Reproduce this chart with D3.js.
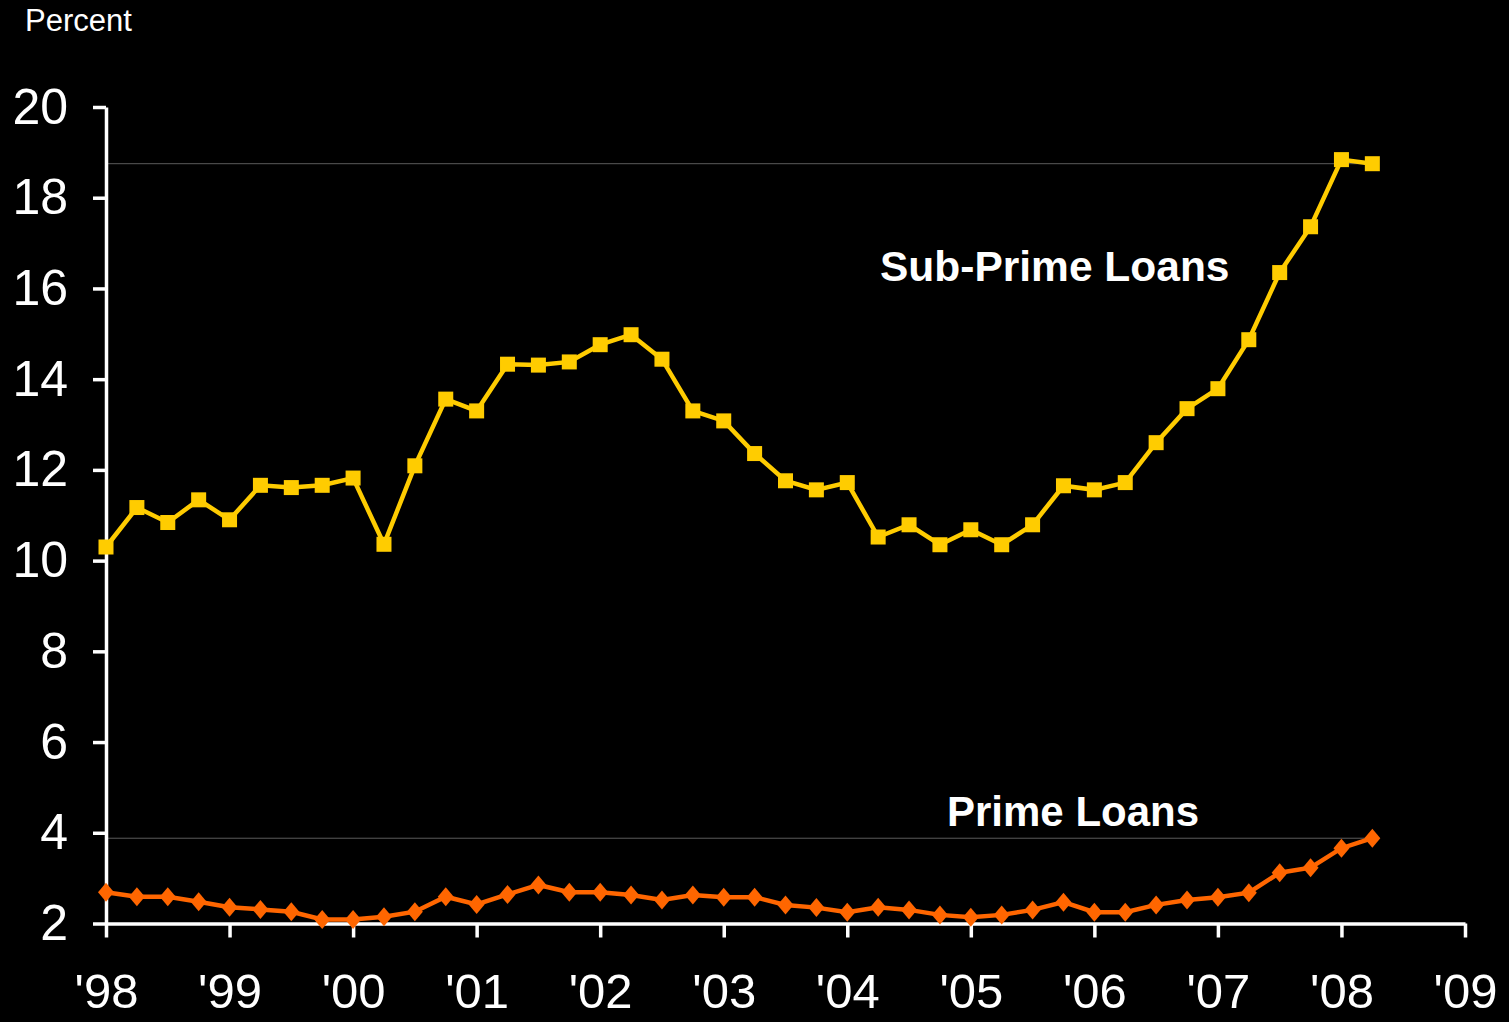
<!DOCTYPE html>
<html>
<head>
<meta charset="utf-8">
<script src="https://cdn.jsdelivr.net/npm/d3@7"></script>
<style>
  body { margin: 0; background: #000; }
  text { font-family: "Liberation Sans", Arial, sans-serif; fill: #fff; }
</style>
</head>
<body>
<div id="chart"></div>
<script>
// quarterly delinquency rates, 1998Q1 - 2008Q2
var quarters = [
  "1998Q1","1998Q2","1998Q3","1998Q4","1999Q1","1999Q2","1999Q3","1999Q4",
  "2000Q1","2000Q2","2000Q3","2000Q4","2001Q1","2001Q2","2001Q3","2001Q4",
  "2002Q1","2002Q2","2002Q3","2002Q4","2003Q1","2003Q2","2003Q3","2003Q4",
  "2004Q1","2004Q2","2004Q3","2004Q4","2005Q1","2005Q2","2005Q3","2005Q4",
  "2006Q1","2006Q2","2006Q3","2006Q4","2007Q1","2007Q2","2007Q3","2007Q4",
  "2008Q1","2008Q2"
];
var subPrime = [
  10.30, 11.17, 10.84, 11.34, 10.90, 11.66, 11.61, 11.66,
  11.82, 10.36, 12.09, 13.56, 13.30, 14.33, 14.31, 14.38,
  14.76, 14.98, 14.44, 13.30, 13.08, 12.36, 11.76, 11.56,
  11.72, 10.52, 10.79, 10.35, 10.68, 10.35, 10.79, 11.65,
  11.56, 11.72, 12.60, 13.35, 13.79, 14.87, 16.35, 17.36,
  18.84, 18.75
];
var prime = [
  2.69, 2.59, 2.59, 2.48, 2.36, 2.31, 2.26, 2.09,
  2.09, 2.15, 2.26, 2.59, 2.42, 2.64, 2.85, 2.69,
  2.69, 2.63, 2.52, 2.63, 2.58, 2.58, 2.41, 2.35,
  2.25, 2.36, 2.30, 2.19, 2.14, 2.19, 2.30, 2.47,
  2.25, 2.25, 2.41, 2.52, 2.58, 2.68, 3.12, 3.23,
  3.66, 3.88
];
var yearTicks = [1998, 1999, 2000, 2001, 2002, 2003, 2004, 2005, 2006, 2007, 2008, 2009];
var yearLabels = ["'98","'99","'00","'01","'02","'03","'04","'05","'06","'07","'08","'09"];
var percentTicks = [2, 4, 6, 8, 10, 12, 14, 16, 18, 20];

var margin = { top: 107, right: 44, bottom: 98.5, left: 106 };
var width = 1509 - margin.left - margin.right;
var height = 1022 - margin.top - margin.bottom;

var svg = d3
  .select("#chart")
  .append("svg")
  .attr("width", 1509)
  .attr("height", 1022)
  .style("background-color", "black");

var g = svg
  .append("g")
  .attr("transform", "translate(" + margin.left + "," + margin.top + ")");

// quarter string -> fractional year
var toYear = (q) => +q.slice(0, 4) + (+q.slice(5) - 1) / 4;

var x = d3.scaleLinear().domain([1998, 2009]).range([0, width]);
var y = d3.scaleLinear().domain([2, 20]).range([height, 0]);

var subData = quarters.map((q, i) => ({ t: toYear(q), v: subPrime[i] }));
var primeData = quarters.map((q, i) => ({ t: toYear(q), v: prime[i] }));

// thin reference lines at latest values
[subData, primeData].forEach((d) => {
  var last = d[d.length - 1];
  g.append("line")
    .attr("x1", 0)
    .attr("x2", x(last.t))
    .attr("y1", y(last.v))
    .attr("y2", y(last.v))
    .attr("stroke", "#5a5a5a")
    .attr("stroke-width", 1);
});

// Y axis
var yAxis = g
  .append("g")
  .call(d3.axisLeft(y).tickValues(percentTicks).tickSize(13).tickSizeOuter(0).tickPadding(25));
// X axis
var xAxis = g
  .append("g")
  .attr("transform", "translate(0," + height + ")")
  .call(
    d3.axisBottom(x)
      .tickValues(yearTicks)
      .tickFormat((d, i) => yearLabels[i])
      .tickSize(14)
      .tickSizeOuter(0)
  );

[yAxis, xAxis].forEach((a) => {
  a.select(".domain").attr("stroke", "#fff").attr("stroke-width", 3.5);
  a.selectAll(".tick line").attr("stroke", "#fff").attr("stroke-width", 3.5);
  a.selectAll("text")
    .style("font-size", "50px")
    .style("font-family", '"Liberation Sans", Arial, sans-serif')
    .attr("fill", "#fff");
});
// keep year labels inside the bottom edge
xAxis.selectAll("text").style("font-size", "49px").attr("y", 50).attr("dy", "0.71em");

var line = d3
  .line()
  .x((d) => x(d.t))
  .y((d) => y(d.v));

// Sub-prime series
g.append("path")
  .datum(subData)
  .attr("fill", "none")
  .attr("stroke", "#FFCC00")
  .attr("stroke-width", 4.5)
  .attr("d", line);
g.selectAll(".sq")
  .data(subData)
  .join("rect")
  .attr("class", "sq")
  .attr("x", (d) => x(d.t) - 7.5)
  .attr("y", (d) => y(d.v) - 7.5)
  .attr("width", 15)
  .attr("height", 15)
  .attr("fill", "#FFCC00");

// Prime series
g.append("path")
  .datum(primeData)
  .attr("fill", "none")
  .attr("stroke", "#FF6600")
  .attr("stroke-width", 4.5)
  .attr("d", line);
g.selectAll(".dm")
  .data(primeData)
  .join("path")
  .attr("class", "dm")
  .attr("transform", (d) => "translate(" + x(d.t) + "," + y(d.v) + ")")
  .attr("d", "M0,-9.5L8,0L0,9.5L-8,0Z")
  .attr("fill", "#FF6600");

// Labels
svg.append("text")
  .attr("x", 25)
  .attr("y", 31)
  .style("font-size", "31px")
  .text("Percent");

svg.append("text")
  .attr("x", 880)
  .attr("y", 281)
  .style("font-size", "42.5px")
  .style("font-weight", "bold")
  .text("Sub-Prime Loans");

svg.append("text")
  .attr("x", 947)
  .attr("y", 826)
  .style("font-size", "42px")
  .style("font-weight", "bold")
  .text("Prime Loans");
</script>
</body>
</html>
